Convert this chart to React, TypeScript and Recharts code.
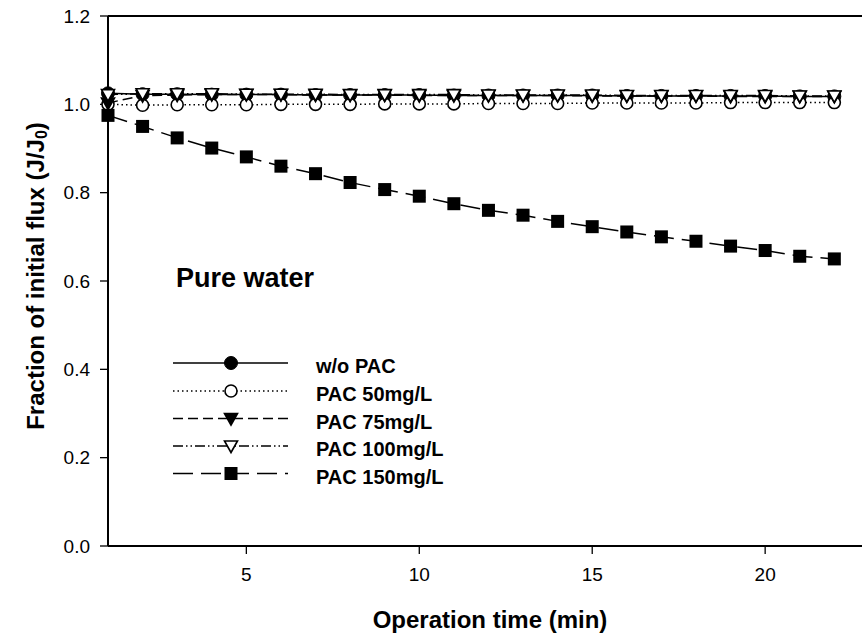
import { LineChart, Line, XAxis, YAxis, ReferenceLine, Legend } from 'recharts';

// operation time (min) and normalised flux J/J0 for each PAC dose
const time = [1, 2, 3, 4, 5, 6, 7, 8, 9, 10, 11, 12, 13, 14, 15, 16, 17, 18, 19, 20, 21, 22];
const woPac = [1.025, 1.023, 1.023, 1.022, 1.022, 1.022, 1.021, 1.021, 1.021, 1.021, 1.02, 1.02, 1.02, 1.02, 1.02, 1.019, 1.019, 1.019, 1.019, 1.019, 1.018, 1.018];
const pac50 = [1.0, 0.998, 0.999, 0.999, 0.999, 1.0, 1.0, 1.0, 1.001, 1.001, 1.001, 1.002, 1.002, 1.002, 1.003, 1.003, 1.003, 1.003, 1.004, 1.004, 1.004, 1.004];
const pac75 = [1.003, 1.02, 1.021, 1.022, 1.022, 1.022, 1.021, 1.021, 1.021, 1.02, 1.02, 1.02, 1.02, 1.02, 1.019, 1.019, 1.019, 1.019, 1.018, 1.018, 1.018, 1.018];
const pac100 = [1.022, 1.024, 1.024, 1.024, 1.023, 1.023, 1.023, 1.022, 1.022, 1.022, 1.022, 1.021, 1.021, 1.021, 1.021, 1.02, 1.02, 1.02, 1.02, 1.02, 1.019, 1.019];
const pac150 = [0.975, 0.95, 0.924, 0.901, 0.881, 0.86, 0.843, 0.823, 0.807, 0.792, 0.775, 0.76, 0.749, 0.735, 0.723, 0.711, 0.7, 0.69, 0.679, 0.669, 0.656, 0.65];

const xTicks = [5, 10, 15, 20];
const yTicks = [0, 0.2, 0.4, 0.6, 0.8, 1.0, 1.2];

const FONT = '"Liberation Sans", Arial, Helvetica, sans-serif';

type MarkerKind = 'circle' | 'circleOpen' | 'triangle' | 'triangleOpen' | 'square';

interface SeriesDef {
  key: string;
  name: string;
  dash?: string;
  marker: MarkerKind;
}

const series: SeriesDef[] = [
  { key: 'woPac', name: 'w/o PAC', marker: 'circle' },
  { key: 'pac50', name: 'PAC 50mg/L', dash: '1.5 3', marker: 'circleOpen' },
  { key: 'pac75', name: 'PAC 75mg/L', dash: '10 5', marker: 'triangle' },
  { key: 'pac100', name: 'PAC 100mg/L', dash: '10 3 1.5 3 1.5 3', marker: 'triangleOpen' },
  { key: 'pac150', name: 'PAC 150mg/L', dash: '20 8', marker: 'square' },
];

const data = time.map((t, i) => ({
  time: t,
  woPac: woPac[i],
  pac50: pac50[i],
  pac75: pac75[i],
  pac100: pac100[i],
  pac150: pac150[i],
}));

/** SigmaPlot-style point symbol. */
function Marker({ kind, cx, cy }: { kind: MarkerKind; cx: number; cy: number }) {
  switch (kind) {
    case 'circle':
      return <circle cx={cx} cy={cy} r={6.5} fill="#000" stroke="#000" strokeWidth={1} />;
    case 'circleOpen':
      return <circle cx={cx} cy={cy} r={6} fill="#fff" stroke="#000" strokeWidth={1.6} />;
    case 'triangle':
    case 'triangleOpen': {
      const open = kind === 'triangleOpen';
      const pts = `${cx - 6.5},${cy - 5} ${cx + 6.5},${cy - 5} ${cx},${cy + 6.5}`;
      return <polygon points={pts} fill={open ? '#fff' : '#000'} stroke="#000" strokeWidth={1.6} />;
    }
    case 'square':
    default:
      return <rect x={cx - 6.5} y={cy - 6.5} width={13} height={13} fill="#000" />;
  }
}

/** Legend block with the "Pure water" heading above it. */
function FluxLegend() {
  const rowY = [113, 141, 168.5, 196, 223.5];
  return (
    <svg width={330} height={240} style={{ display: 'block', overflow: 'visible' }}>
      <text x={26} y={37} fontFamily={FONT} fontSize={27} fontWeight="bold" fill="#000">
        Pure water
      </text>
      {series.map((s, i) => (
        <g key={s.key}>
          <line x1={23} x2={138} y1={rowY[i]} y2={rowY[i]} stroke="#000" strokeWidth={1.4} strokeDasharray={s.dash} />
          <Marker kind={s.marker} cx={81} cy={rowY[i]} />
          <text x={166} y={rowY[i] + 10} fontFamily={FONT} fontSize={20} fontWeight="bold" fill="#000">
            {s.name}
          </text>
        </g>
      ))}
    </svg>
  );
}

function XTitle() {
  return (
    <text x={490} y={628} textAnchor="middle" fontFamily={FONT} fontSize={24} fontWeight="bold" fill="#000">
      Operation time (min)
    </text>
  );
}

function YTitle() {
  return (
    <text
      x={35}
      y={276}
      transform="rotate(-90, 35, 276)"
      textAnchor="middle"
      dominantBaseline="central"
      fontFamily={FONT}
      fontSize={24}
      fontWeight="bold"
      fill="#000"
    >
      Fraction of initial flux (J/J
      <tspan dy={6} fontSize={16}>0</tspan>
      <tspan dy={-6}>)</tspan>
    </text>
  );
}

const tickStyle = { fontFamily: FONT, fontSize: 19, fill: '#000' };

export default function App() {
  return (
    <div style={{ position: 'absolute', left: 0, top: 0, width: 863, height: 635, background: '#fff' }}>
      <LineChart width={863} height={635} data={data} margin={{ top: 16, right: 1, bottom: 0, left: 0 }}>
        <XAxis
          dataKey="time"
          type="number"
          domain={[1, 22.8]}
          ticks={xTicks}
          tick={tickStyle}
          tickSize={8}
          tickMargin={14}
          height={89}
          axisLine={{ stroke: '#000', strokeWidth: 2 }}
          tickLine={{ stroke: '#000', strokeWidth: 1.3 }}
          label={<XTitle />}
        />
        <YAxis
          type="number"
          domain={[0, 1.2]}
          ticks={yTicks}
          tickFormatter={(v: number) => v.toFixed(1)}
          tick={tickStyle}
          tickSize={8}
          tickMargin={10}
          width={108}
          axisLine={{ stroke: '#000', strokeWidth: 2 }}
          tickLine={{ stroke: '#000', strokeWidth: 1.3 }}
          label={<YTitle />}
        />
        <ReferenceLine y={1.2} stroke="#000" strokeWidth={2} />
        {series.map((s) => (
          <Line
            key={s.key}
            type="linear"
            dataKey={s.key}
            name={s.name}
            stroke="#000"
            strokeWidth={1.5}
            strokeDasharray={s.dash}
            dot={(p: any) => <Marker key={`${s.key}-${p.index}`} kind={s.marker} cx={p.cx} cy={p.cy} />}
            activeDot={false}
            isAnimationActive={false}
          />
        ))}
        <Legend
          layout="vertical"
          align="center"
          verticalAlign="middle"
          wrapperStyle={{ left: 150, top: 250, width: 330, height: 240 }}
          content={() => <FluxLegend />}
        />
      </LineChart>
    </div>
  );
}
